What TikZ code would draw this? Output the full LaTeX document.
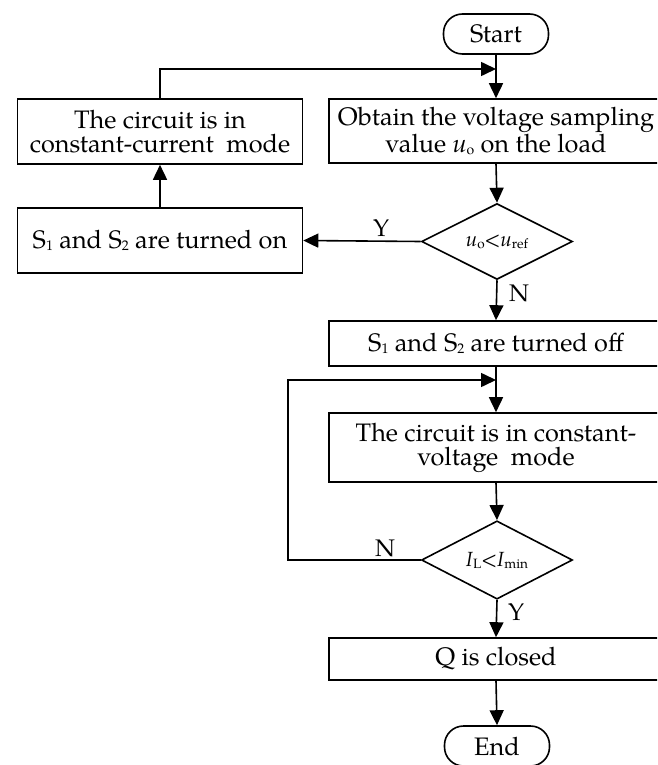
\documentclass[tikz,border=0pt]{standalone}
\usepackage{fontspec}
\setmainfont{TeX Gyre Pagella}
\usetikzlibrary{shapes.geometric,arrows.meta}
\newcommand\sbs[1]{\raisebox{-0.2ex}{\fontsize{14}{14}\selectfont #1}}
\newcommand\dsb[1]{\raisebox{-0.2ex}{\fontsize{13.5}{13.5}\selectfont #1}}
\begin{document}
\begin{tikzpicture}[x=1pt,y=-1pt,
  every node/.style={font=\fontsize{25.3}{24}\selectfont},
  box/.style={draw,line width=1.6pt,rectangle,inner sep=0pt,align=center},
  term/.style={draw,line width=1.6pt,rectangle,rounded corners=19pt,inner sep=0pt,minimum width=105pt,minimum height=40pt},
  dec/.style={draw,line width=1.6pt,diamond,inner sep=0pt,minimum width=151pt,minimum height=67pt,font=\fontsize{20.5}{20.5}\selectfont},
  lab/.style={font=\fontsize{24}{24}\selectfont,inner sep=0pt},
  conn/.style={line width=1.6pt,-{Triangle[length=15pt,width=14pt]}}]
\useasboundingbox (0,0) rectangle (657,765);
\clip (0,0) rectangle (657,765);
\node[term] (start) at (496,34) {Start};
\node[box,minimum width=334pt,minimum height=64pt] (obtain) at (496,131) {Obtain the voltage sampling\\value \textit{u}\sbs{o} on the load};
\node[box,minimum width=285pt,minimum height=65pt] (cc) at (160,131.5) {The circuit is in\\constant-current\ \ mode};
\node[box,minimum width=285pt,minimum height=65pt] (on) at (160,240.5) {S\sbs{1} and S\sbs{2} are turned on};
\node[dec] (d1) at (497,241.5) {\textit{u}\dsb{o}<\textit{u}\dsb{ref}};
\node[box,minimum width=334pt,minimum height=45pt] (off) at (496,343.5) {S\sbs{1} and S\sbs{2} are turned off};
\node[box,minimum width=334pt,minimum height=69pt] (cv) at (496,447.5) {The circuit is in constant-\\voltage\ \ mode};
\node[dec] (d2) at (497,560) {\textit{I}\dsb{L}<\textit{I}\dsb{min}};
\node[box,minimum width=334pt,minimum height=42pt] (q) at (496,659) {Q is closed};
\node[term] (end) at (497,746) {End};
\coordinate (top) at (496,69);
\coordinate (mid) at (496,380);
\coordinate (lp) at (288,560);
\node[lab] (y1) at (381,228) {Y};
\node[lab] (n1) at (519,293) {N};
\node[lab] (n2) at (385,548) {N};
\node[lab] (y2) at (516,612) {Y};
\draw[conn] (start.south) -- (obtain.north);
\draw[conn] (obtain.south) -- (d1.north);
\draw[conn] (d1.west) -- (on.east);
\draw[conn] (on.north) -- (cc.south);
\draw[conn] (cc.north) |- (top);
\draw[conn] (d1.south) -- (off.north);
\draw[conn] (off.south) -- (cv.north);
\draw[conn] (cv.south) -- (d2.north);
\draw[conn] (d2.west) -- (lp) |- (mid);
\draw[conn] (d2.south) -- (q.north);
\draw[conn] (q.south) -- (end.north);
\end{tikzpicture}
\end{document}
